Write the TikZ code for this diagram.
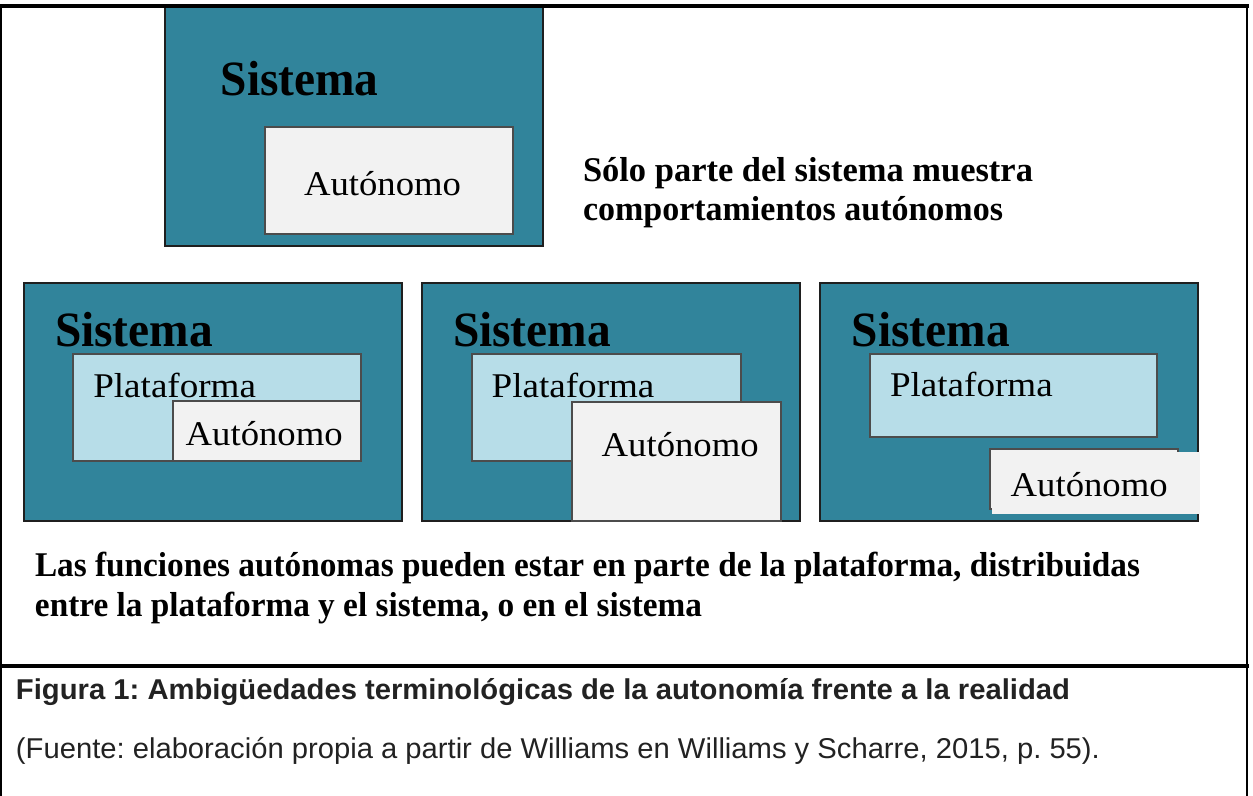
\documentclass[tikz,border=0pt]{standalone}
\usepackage{fontspec}
\usepackage{graphicx}
\setmainfont{Liberation Serif}
\newfontfamily\capfont{Liberation Sans}
\frenchspacing
\definecolor{teal}{HTML}{31849B}
\definecolor{platblue}{HTML}{B7DDE8}
\definecolor{autgray}{HTML}{F2F2F2}
\definecolor{edge}{HTML}{1F1F1F}
\definecolor{captxt}{HTML}{222222}
\newsavebox\fitbox
\newlength\fitlen
\newcommand\fitto[2]{\sbox\fitbox{#2}\setlength\fitlen{\wd\fitbox}\pgfmathsetmacro\fitsx{#1*0.75/\fitlen}\scalebox{\fitsx}[1]{\usebox\fitbox}}
\tikzset{
  sysbox/.style={fill=teal, draw=edge, line width=0.8pt},
  platbox/.style={fill=platblue, draw=edge!80, line width=0.8pt},
  autbox/.style={fill=autgray, draw=edge!80, line width=0.8pt},
  frameline/.style={draw=black, line width=2.3pt},
  txt/.style={anchor=base west, inner sep=0pt, outer sep=0pt},
}
\newcommand\sysfont{\fontsize{37}{40}\selectfont\bfseries}
\newcommand\inner{\fontsize{26}{30}\selectfont}
\newcommand\boldtxt{\fontsize{26}{30}\selectfont\bfseries}
\newcommand\capbold{\capfont\fontsize{21.5}{25}\selectfont\bfseries\color{captxt}}
\newcommand\capreg{\capfont\fontsize{21.5}{25}\selectfont\color{captxt}}
\begin{document}
\begin{tikzpicture}[x=0.75pt, y=-0.75pt]
\useasboundingbox (0,0) rectangle (1253,796);
% top panel
\draw[sysbox] (165,7) rectangle (543,246);
\draw[autbox] (265,127) rectangle (513,234);
\node[txt] (s0) at (220.7,95) {\sysfont\fitto{158}{Sistema}};
\node[txt] (a0) at (304,195) {\inner\fitto{157}{Autónomo}};
\node[txt] (r1) at (583,181) {\boldtxt\fitto{450}{Sólo parte del sistema muestra}};
\node[txt] (r2) at (583,220) {\boldtxt\fitto{420}{comportamientos autónomos}};
% panel 1
\draw[sysbox] (24,283) rectangle (402,521);
\draw[platbox] (73,354) rectangle (361,461);
\draw[autbox] (173,401) rectangle (361,461);
\node[txt] (s1) at (55,346.7) {\sysfont\fitto{158}{Sistema}};
\node[txt] (p1) at (93.3,397.3) {\inner\fitto{162.7}{Plataforma}};
\node[txt] (a1) at (185.7,445.7) {\inner\fitto{157}{Autónomo}};
% panel 2
\draw[sysbox] (422,283) rectangle (800,521);
\draw[platbox] (472,354) rectangle (741,461);
\draw[autbox] (572,402) rectangle (781,521);
\node[txt] (s2) at (453,346.7) {\sysfont\fitto{158}{Sistema}};
\node[txt] (p2) at (491.7,397.3) {\inner\fitto{162.7}{Plataforma}};
\node[txt] (a2) at (601.7,456.7) {\inner\fitto{157}{Autónomo}};
% panel 3
\draw[sysbox] (820,283) rectangle (1198,521);
\draw[platbox] (870,354) rectangle (1157,437);
\draw[autbox] (990,449) rectangle (1178,509);
\fill[autgray] (992,452) rectangle (1200,514);
\node[txt] (s3) at (851.7,346.7) {\sysfont\fitto{158}{Sistema}};
\node[txt] (p3) at (890,396.7) {\inner\fitto{162.7}{Plataforma}};
\node[txt] (a3) at (1010.7,496) {\inner\fitto{157}{Autónomo}};
% bottom text
\node[txt] (b1) at (35,576) {\boldtxt\fitto{1105}{Las funciones autónomas pueden estar en parte de la plataforma, distribuidas}};
\node[txt] (b2) at (35,616) {\boldtxt\fitto{667}{entre la plataforma y el sistema, o en el sistema}};
% frame
\draw[frameline] (0,6) -- (1249,6);
\draw[frameline, line width=1.7pt] (1,6) -- (1,796);
\draw[frameline, line width=1.7pt] (1247,6) -- (1247,796);
\draw[frameline] (0,666) -- (1249,666);
% caption
\node[txt] (c1) at (16,699) {\capbold\fitto{1054}{Figura 1: Ambigüedades terminológicas de la autonomía frente a la realidad}};
\node[txt] (c2) at (16,758) {\capreg\fitto{1084}{(Fuente: elaboración propia a partir de Williams en Williams y Scharre, 2015, p. 55).}};
\end{tikzpicture}
\end{document}
